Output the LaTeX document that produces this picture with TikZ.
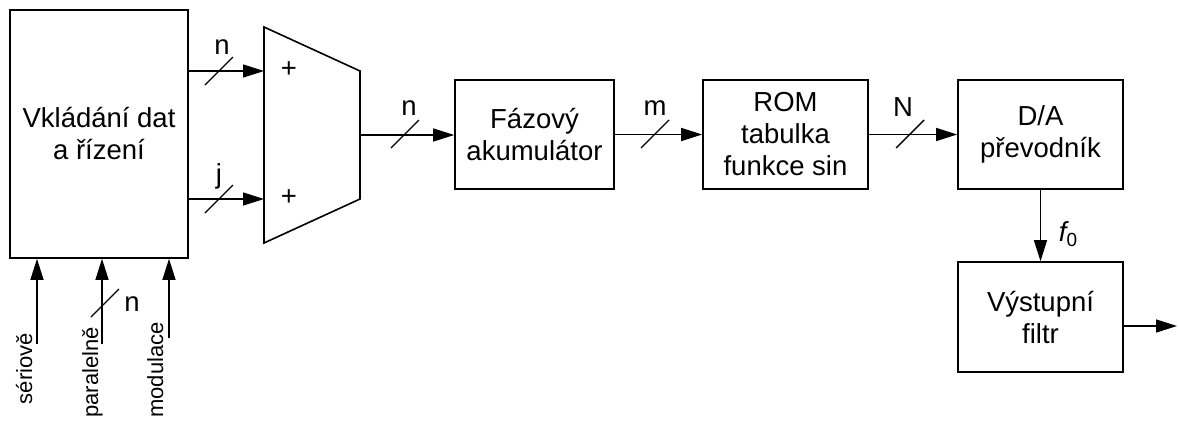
\documentclass[tikz,border=0pt]{standalone}
\usepackage{fontspec}
\setmainfont{Liberation Sans}
\usetikzlibrary{arrows.meta}
\begin{document}
\begin{tikzpicture}[x=1pt,y=-1pt,
  blk/.style={draw, line width=1.6pt, align=center, inner sep=0pt,
              font=\fontsize{27.5}{32}\selectfont},
  sig/.style={line width=1.4pt, -{Triangle[length=21pt,width=13pt]}},
  slash/.style={line width=1.4pt},
  lbl/.style={inner sep=0pt, font=\fontsize{27.5}{32}\selectfont},
  vlbl/.style={inner sep=0pt, rotate=90, anchor=base east, font=\fontsize{22}{26}\selectfont}]
\useasboundingbox (0,0) rectangle (1179,421);

% blocks
\node[blk, minimum width=178pt, minimum height=248pt] (big) at (99,134) {Vkládání dat\\a řízení};
\node[blk, minimum width=159pt, minimum height=109pt] (faz) at (534.5,134.5) {Fázový\\akumulátor};
\node[blk, minimum width=165pt, minimum height=109pt] (rom) at (785.5,134.5) {ROM\\tabulka\\funkce sin};
\node[blk, minimum width=165pt, minimum height=109pt] (da) at (1040.5,134.5) {D/A\\převodník};
\node[blk, minimum width=165pt, minimum height=110pt] (filt) at (1040.5,317) {Výstupní\\filtr};

% adder (trapezoid)
\coordinate (addtl) at (264,27);
\coordinate (addtr) at (360,71);
\coordinate (addbr) at (360,199);
\coordinate (addbl) at (264,243);
\draw[line width=1.6pt] (addtl) -- (addtr) -- (addbr) -- (addbl) -- cycle;
\coordinate (addin1) at (264,71);
\coordinate (addin2) at (264,199);
\coordinate (addout) at (360,135);
\node[lbl] (plus1) at (289,70) {+};
\node[lbl] (plus2) at (289,198) {+};

% connectors
\draw[sig] (big.east |- addin1) -- (addin1);
\draw[sig] (big.east |- addin2) -- (addin2);
\draw[sig] (addout) -- (faz.west |- addout);
\draw[sig] (faz.east) -- (rom.west);
\draw[sig] (rom.east) -- (da.west);
\draw[sig] (da.south) -- (filt.north);
\coordinate (out) at (1177,326);
\draw[sig] (filt.east |- out) -- (out);

% bus slashes and labels
\draw[slash] (219,71) +(-14,14) -- +(14,-14);
\node[lbl] (ln1) at (222,47) {n};
\draw[slash] (219,199) +(-14,14) -- +(14,-14);
\node[lbl] (lj) at (219,176) {j};
\draw[slash] (405,134) +(-14,14) -- +(14,-14);
\node[lbl] (ln2) at (409,108) {n};
\draw[slash] (655,134) +(-14,14) -- +(14,-14);
\node[lbl] (lm) at (655,108) {m};
\draw[slash] (910,134) +(-14,14) -- +(14,-14);
\node[lbl] (lN) at (903,107) {N};
\node[lbl] (lf) at (1068,234) {\itshape f\upshape\raisebox{-5pt}{\fontsize{19}{19}\selectfont 0}};

% bottom inputs
\coordinate (inser) at (37,344);
\coordinate (inpar) at (102,344);
\coordinate (inmod) at (169,338);
\draw[sig] (inser) -- (big.south -| inser);
\draw[sig] (inpar) -- (big.south -| inpar);
\draw[sig] (inmod) -- (big.south -| inmod);
\draw[slash] (105,303) +(-14,14) -- +(14,-14);
\node[lbl] (ln3) at (132,304) {n};
\node[vlbl] (tser) at (32,333) {sériově};
\node[vlbl] (tpar) at (98,327) {paralelně};
\node[vlbl] (tmod) at (163,322) {modulace};
\end{tikzpicture}
\end{document}
